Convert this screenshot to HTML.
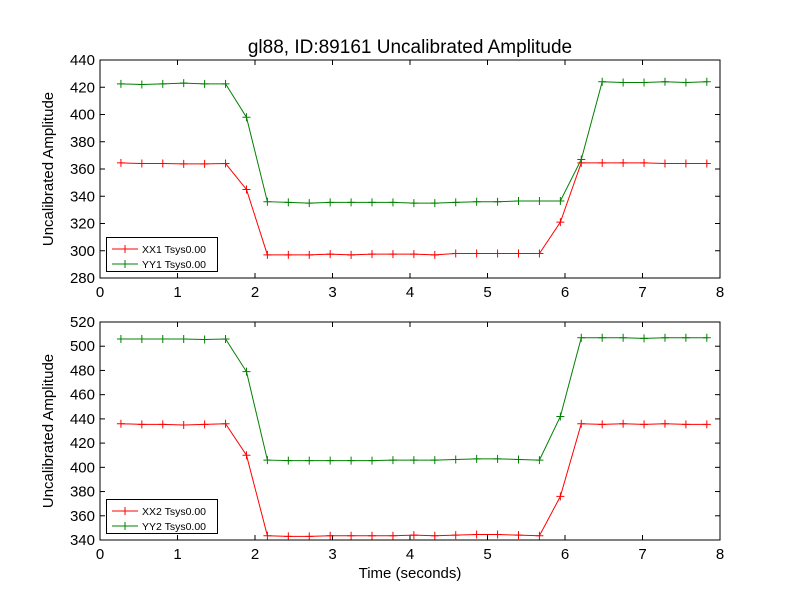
<!DOCTYPE html>
<html><head><meta charset="utf-8"><style>
html,body{margin:0;padding:0;background:#fff;}
svg text{font-family:"Liberation Sans","DejaVu Sans",sans-serif;}
</style></head><body>
<svg id="chart" width="800" height="600" xmlns="http://www.w3.org/2000/svg">
<rect width="800" height="600" fill="#fff"/>
<text x="410" y="53" font-size="19" text-anchor="middle">gl88, ID:89161 Uncalibrated Amplitude</text>
<text x="410" y="578" font-size="15" text-anchor="middle">Time (seconds)</text>
<g id="g1"></g><g id="g2"></g>
</svg>
<script>
const times=[0.27,0.54,0.81,1.08,1.35,1.62,1.89,2.16,2.43,2.70,2.97,3.24,3.51,3.78,4.05,4.32,4.59,4.86,5.13,5.40,5.67,5.94,6.21,6.48,6.75,7.02,7.29,7.56,7.83];
const xx1=[364.5,364,364,363.8,363.8,364,345,297,297,297,297.5,297,297.5,297.5,297.5,297,298,298,298,298,298,321,364.5,364.5,364.5,364.5,364,364,364];
const yy1=[422.5,422,422.5,423,422.5,422.5,398,336,335.5,335,335.5,335.5,335.5,335.5,335,335,335.5,336,336,336.5,336.5,336.5,367,424,423.5,423.5,424,423.5,424,424];
const xx2=[436,435.5,435.5,435,435.5,436,410,343.5,343,343,343.5,343.5,343.5,343.5,344,343.5,344,344.5,344.5,344,343.5,376,436,435.5,436,435.5,436,435.5,435.5];
const yy2=[506,506,506,506,505.5,506,479,406,405.5,405.5,405.5,405.5,405.5,406,406,406,406.5,407,407,406.5,406,442,507,507,507,506.5,507,507,507];
const xTicks=[0,1,2,3,4,5,6,7,8];
const yTicks1=[280,300,320,340,360,380,400,420,440];
const yTicks2=[340,360,380,400,420,440,460,480,500,520];
const NS="http://www.w3.org/2000/svg";
function mk(p,t,a){const e=document.createElementNS(NS,t);for(const k in a)e.setAttribute(k,a[k]);p.appendChild(e);return e;}
function panel(gid,top,bot,ymin,ymax,yTicks,s1,s2,n1,n2,name){
 const g=document.getElementById(gid);
 const L=100,R=720;
 const X=v=>L+(v-0)/8*(R-L);
 const Y=v=>bot-(v-ymin)/(ymax-ymin)*(bot-top);
 xTicks.forEach(t=>{
  const l=mk(g,'line',{x1:X(t),x2:X(t),y1:bot,y2:bot-5,stroke:'#000'});
  
  mk(g,'line',{x1:X(t),x2:X(t),y1:top,y2:top+5,stroke:'#000'});
  const tx=mk(g,'text',{x:X(t),y:bot+19,'font-size':15,'text-anchor':'middle'});tx.textContent=t;
  
 });
 yTicks.forEach(t=>{
  const l=mk(g,'line',{x1:L,x2:L+5,y1:Y(t),y2:Y(t),stroke:'#000'});
  
  mk(g,'line',{x1:R,x2:R-5,y1:Y(t),y2:Y(t),stroke:'#000'});
  const tx=mk(g,'text',{x:L-5,y:Y(t)+5,'font-size':15,'text-anchor':'end'});tx.textContent=t;
  
 });
 const yl=mk(g,'text',{x:0,y:0,'font-size':15,'text-anchor':'middle',transform:`translate(53,${(top+bot)/2}) rotate(-90)`});
 yl.textContent='Uncalibrated Amplitude';
 
 [[s1,'#ff0000',n1],[s2,'#008000',n2]].forEach(([s,c,n])=>{
  const pl=mk(g,'polyline',{points:s.map((v,i)=>X(times[i])+','+Y(v)).join(' '),fill:'none',stroke:c,'stroke-width':1});
  
  s.forEach((v,i)=>{const x=X(times[i]),y=Y(v);
   const m=mk(g,'path',{d:`M${x-4},${y}H${x+4}M${x},${y-4}V${y+4}`,stroke:c,'stroke-width':1});
   });
 });
 const fr=mk(g,'rect',{x:L,y:top,width:R-L,height:bot-top,fill:'none',stroke:'#000'});
 
 const lg=mk(g,'g',{});
 mk(lg,'rect',{x:106.5,y:bot-40.5,width:111,height:34,fill:'#fff',stroke:'#000'});
 [[n1,'#ff0000',bot-29],[n2,'#008000',bot-14]].forEach(([n,c,yy])=>{
  const e=mk(lg,'g',{});
  mk(e,'line',{x1:112,x2:138,y1:yy,y2:yy,stroke:c});
  mk(e,'path',{d:`M121,${yy}H129M125,${yy-4}V${yy+4}`,stroke:c});
  const t=mk(e,'text',{x:142,y:yy+4,'font-size':10.5});t.textContent=n;
 });
}
panel('g1',60,278,280,440,yTicks1,xx1,yy1,'XX1 Tsys0.00','YY1 Tsys0.00','top-axes');
panel('g2',322,540,340,520,yTicks2,xx2,yy2,'XX2 Tsys0.00','YY2 Tsys0.00','bottom-axes');
</script>
</body></html>
